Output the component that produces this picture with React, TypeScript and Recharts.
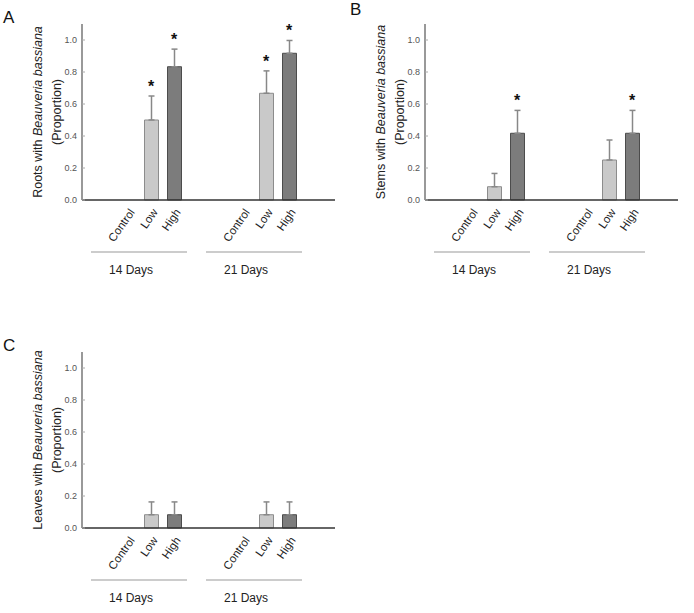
import React from "react";
import { ComposedChart, Bar, Cell, ErrorBar, Scatter, XAxis, YAxis } from "recharts";

// x positions of the six bars (gap of two slots between the day groups)
const positions = [0, 1, 2, 5, 6, 7];
const conditions = ["Control", "Low", "High", "Control", "Low", "High"];
const dayGroups = ["14 Days", "21 Days"];
const yTicks = [0, 0.2, 0.4, 0.6, 0.8, 1.0];

const rootsValues = [0, 0.5, 0.833, 0, 0.667, 0.917];
const rootsErrors = [0, 0.15, 0.11, 0, 0.14, 0.08];
const rootsSig = [false, true, true, false, true, true];

const stemsValues = [0, 0.083, 0.417, 0, 0.25, 0.417];
const stemsErrors = [0, 0.083, 0.143, 0, 0.125, 0.143];
const stemsSig = [false, false, true, false, false, true];

const leavesValues = [0, 0.083, 0.083, 0, 0.083, 0.083];
const leavesErrors = [0, 0.08, 0.08, 0, 0.08, 0.08];
const leavesSig = [false, false, false, false, false, false];

const FONT = '"Liberation Sans", Arial, sans-serif';

const fills: Record<string, string> = { Control: "none", Low: "#c9c9c9", High: "#7c7c7c" };
const strokes: Record<string, string> = { Control: "none", Low: "#8c8c8c", High: "#4c4c4c" };

function buildRows(values: number[], errors: number[]) {
    return positions.map((x, i) => ({
        x,
        cond: conditions[i],
        value: values[i],
        err: errors[i] ? [0, errors[i]] : null,
    }));
}

function buildStars(values: number[], errors: number[], sig: boolean[]) {
    return positions
        .map((x, i) => ({ x, top: values[i] + errors[i], sig: sig[i] }))
        .filter((d) => d.sig);
}

const XTick = (props: any) => {
    const { x, y, payload } = props;
    const i = positions.indexOf(payload.value);
    const cond = conditions[i];
    const tx = x + 4;
    const ty = y + 10;
    return (
        <g>
            <text
                x={tx}
                y={ty}
                transform={`rotate(-55, ${tx}, ${ty})`}
                textAnchor="end"
                dominantBaseline="central"
                fontSize={11.5}
                fill="#222"
                fontFamily={FONT}
            >
                {cond}
            </text>
            {cond === "Low" && (
                <g>
                    <line x1={x - 60} x2={x + 36} y1={y + 52} y2={y + 52} stroke="#999" strokeWidth={1} />
                    <text x={x - 20} y={y + 70} textAnchor="middle" dominantBaseline="central" fontSize={12} fill="#222" fontFamily={FONT}>
                        {dayGroups[i < 3 ? 0 : 1]}
                    </text>
                </g>
            )}
        </g>
    );
};

const YLabel = ({ viewBox, organ }: any) => {
    const axisX = viewBox.x + viewBox.width;
    const cy = viewBox.y + viewBox.height / 2;
    return (
        <g fontFamily={FONT} fontSize={12.5} fill="#222">
            <text x={axisX - 44} y={cy} transform={`rotate(-90, ${axisX - 44}, ${cy})`} textAnchor="middle" dominantBaseline="central">
                {organ} with <tspan fontStyle="italic">Beauveria bassiana</tspan>
            </text>
            <text x={axisX - 25} y={cy} transform={`rotate(-90, ${axisX - 25}, ${cy})`} textAnchor="middle" dominantBaseline="central">
                (Proportion)
            </text>
        </g>
    );
};

const Star = (props: any) => {
    const { cx, cy } = props;
    return (
        <text x={cx} y={cy - 4} textAnchor="middle" fontSize={16} fontWeight="bold" fill="#111" fontFamily={FONT}>
            *
        </text>
    );
};

function Panel({ left, top, organ, values, errors, sig }: any) {
    const rows = buildRows(values, errors);
    const stars = buildStars(values, errors, sig);
    return (
        <div style={{ position: "absolute", left, top }}>
            <ComposedChart width={345} height={285} data={rows} margin={{ top: 24, right: 10, left: 0, bottom: 0 }}>
                <XAxis
                    dataKey="x"
                    type="number"
                    domain={[-2, 9]}
                    ticks={positions}
                    interval={0}
                    height={85}
                    tickLine={false}
                    tickSize={0}
                    tickMargin={0}
                    axisLine={{ stroke: "#333", strokeWidth: 1.5 }}
                    tick={<XTick />}
                />
                <YAxis
                    type="number"
                    domain={[0, 1.1]}
                    ticks={yTicks}
                    width={82}
                    tickFormatter={(v: number) => v.toFixed(1)}
                    tick={{ fontSize: 9, fill: "#555", fontFamily: FONT }}
                    tickSize={-3}
                    tickMargin={8}
                    tickLine={{ stroke: "#aaa" }}
                    axisLine={{ stroke: "#777", strokeWidth: 1.5 }}
                    label={{ content: (p: any) => <YLabel {...p} organ={organ} /> }}
                />
                <Bar dataKey="value" barSize={14} isAnimationActive={false}>
                    {rows.map((r, i) => (
                        <Cell key={i} fill={fills[r.cond]} stroke={strokes[r.cond]} strokeWidth={1} />
                    ))}
                    <ErrorBar dataKey="err" width={3} stroke="#888" strokeWidth={1.5} direction="y" />
                </Bar>
                <Scatter data={stars} dataKey="top" shape={<Star />} isAnimationActive={false} />
            </ComposedChart>
        </div>
    );
}

const letterStyle: React.CSSProperties = {
    position: "absolute",
    fontFamily: FONT,
    fontSize: 17,
    lineHeight: "17px",
    color: "#111",
};

export default function App() {
    return (
        <div style={{ position: "absolute", left: 0, top: 0, width: 694, height: 613, background: "#fff", overflow: "hidden" }}>
            <div style={{ ...letterStyle, left: 3, top: 9 }}>A</div>
            <div style={{ ...letterStyle, left: 350, top: 1 }}>B</div>
            <div style={{ ...letterStyle, left: 3, top: 337 }}>C</div>
            <Panel left={0} top={0} organ="Roots" values={rootsValues} errors={rootsErrors} sig={rootsSig} />
            <Panel left={343} top={0} organ="Stems" values={stemsValues} errors={stemsErrors} sig={stemsSig} />
            <Panel left={0} top={328} organ="Leaves" values={leavesValues} errors={leavesErrors} sig={leavesSig} />
        </div>
    );
}
